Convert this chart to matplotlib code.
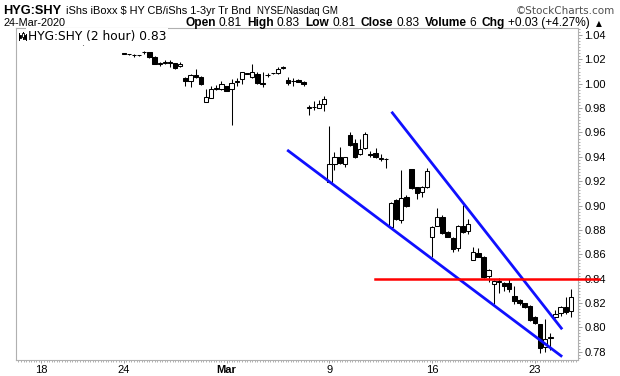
import matplotlib
matplotlib.use("Agg")
import matplotlib.pyplot as plt
import matplotlib.ticker as mticker
import numpy as np

# ---------------- data ----------------
trading_days = ["Feb 18", "Feb 19", "Feb 20", "Feb 21",
                "Feb 24", "Feb 25", "Feb 26", "Feb 27", "Feb 28",
                "Mar 2", "Mar 3", "Mar 4", "Mar 5", "Mar 6",
                "Mar 9", "Mar 10", "Mar 11", "Mar 12", "Mar 13",
                "Mar 16", "Mar 17", "Mar 18", "Mar 19", "Mar 20",
                "Mar 23", "Mar 24"]
bars_per_day = 4
tick_days = ["Feb 18", "Feb 24", "Mar 2", "Mar 9", "Mar 16", "Mar 23"]
tick_labels = ["18", "24", "Mar", "9", "16", "23"]

opens = [1.0365, 1.0352, 1.0370, 1.0368, 1.0375, 1.0380, 1.0385, 1.0378,
         1.0370, 1.0365, 1.0370, 1.0362, 1.0352, 1.0358, 1.0350, 1.0355,
         1.0252, 1.0244, 1.0235, 1.0233, 1.0259, 1.0258, 1.0222, 1.0166,
         1.0174, 1.0175, 1.0168, 1.0143, 1.0050, 1.0025, 1.0072, 1.0058,
         0.9852, 0.9885, 0.9958, 0.9957, 0.9979, 0.9956, 1.0015, 1.0036,
         1.0083, 1.0058, 1.0077, 1.0003, 1.0070, 1.0084, 1.0086, 1.0130,
         1.0031, 1.0021, 1.0031, 1.0017, 0.9802, 0.9805, 0.9803, 0.9831,
         0.9196, 0.9341, 0.9396, 0.9339, 0.9579, 0.9511, 0.9421, 0.9470,
         0.9418, 0.9434, 0.9385, 0.9378, 0.8826, 0.9045, 0.8881, 0.9073,
         0.9297, 0.9149, 0.9109, 0.9150, 0.8744, 0.8834, 0.8908, 0.8786,
         0.8736, 0.8649, 0.8832, 0.8793, 0.8553, 0.8613, 0.8580, 0.8421,
         0.8353, 0.8373, 0.8362, 0.8362, 0.8257, 0.8224, 0.8197, 0.8175,
         0.8087, 0.8025, 0.7841, 0.7916, 0.8087, 0.8115, 0.8165, 0.8134]
highs = [1.0380, 1.0370, 1.0380, 1.0385, 1.0390, 1.0395, 1.0400, 1.0390,
         1.0380, 1.0378, 1.0380, 1.0372, 1.0365, 1.0370, 1.0360, 1.0368,
         1.0256, 1.0248, 1.0240, 1.0238, 1.0271, 1.0262, 1.0225, 1.0181,
         1.0195, 1.0195, 1.0172, 1.0176, 1.0055, 1.0078, 1.0121, 1.0062,
         0.9957, 0.9984, 0.9991, 1.0025, 0.9985, 1.0036, 1.0045, 1.0100,
         1.0092, 1.0162, 1.0095, 1.0099, 1.0085, 1.0092, 1.0140, 1.0145,
         1.0055, 1.0050, 1.0036, 1.0022, 0.9825, 0.9858, 0.9864, 0.9900,
         0.9653, 0.9440, 0.9483, 0.9400, 0.9606, 0.9544, 0.9544, 0.9606,
         0.9450, 0.9470, 0.9420, 0.9392, 0.9030, 0.9050, 0.9292, 0.9090,
         0.9300, 0.9155, 0.9160, 0.9311, 0.8830, 0.8982, 0.8922, 0.8790,
         0.8740, 0.8840, 0.9004, 0.8890, 0.8657, 0.8650, 0.8585, 0.8475,
         0.8385, 0.8407, 0.8370, 0.8395, 0.8342, 0.8230, 0.8200, 0.8180,
         0.8095, 0.8030, 0.8067, 0.7956, 0.8142, 0.8172, 0.8251, 0.8312]
lows = [1.0355, 1.0350, 1.0360, 1.0360, 1.0365, 1.0370, 1.0375, 1.0365,
        1.0320, 1.0360, 1.0360, 1.0348, 1.0348, 1.0348, 1.0345, 1.0355,
        1.0245, 1.0238, 1.0217, 1.0228, 1.0244, 1.0214, 1.0158, 1.0148,
        1.0160, 1.0140, 1.0118, 1.0140, 0.9984, 0.9976, 1.0050, 0.9990,
        0.9848, 0.9880, 0.9948, 0.9948, 0.9940, 0.9664, 0.9985, 0.9995,
        1.0078, 1.0050, 0.9998, 0.9976, 1.0055, 1.0080, 1.0082, 1.0120,
        0.9990, 0.9985, 1.0012, 0.9984, 0.9743, 0.9784, 0.9800, 0.9780,
        0.9196, 0.9290, 0.9345, 0.9319, 0.9490, 0.9393, 0.9415, 0.9465,
        0.9400, 0.9390, 0.9365, 0.9306, 0.8820, 0.8880, 0.8859, 0.8990,
        0.9138, 0.9055, 0.9070, 0.9145, 0.8580, 0.8830, 0.8768, 0.8740,
        0.8617, 0.8630, 0.8776, 0.8765, 0.8550, 0.8578, 0.8405, 0.8375,
        0.8192, 0.8279, 0.8300, 0.8290, 0.8189, 0.8180, 0.8160, 0.8055,
        0.8030, 0.7787, 0.7800, 0.7814, 0.8080, 0.8090, 0.8110, 0.8082]
closes = [1.0370, 1.0358, 1.0365, 1.0375, 1.0380, 1.0385, 1.0378, 1.0370,
          1.0365, 1.0370, 1.0368, 1.0352, 1.0358, 1.0350, 1.0352, 1.0360,
          1.0248, 1.0240, 1.0232, 1.0235, 1.0261, 1.0217, 1.0162, 1.0170,
          1.0178, 1.0171, 1.0132, 1.0164, 1.0025, 1.0072, 1.0053, 0.9998,
          0.9893, 0.9954, 0.9962, 0.9998, 0.9944, 1.0002, 1.0019, 1.0094,
          1.0087, 1.0094, 1.0003, 0.9995, 1.0074, 1.0088, 1.0118, 1.0134,
          1.0004, 1.0024, 1.0017, 0.9995, 0.9805, 0.9808, 0.9831, 0.9875,
          0.9339, 0.9400, 0.9352, 0.9396, 0.9497, 0.9401, 0.9462, 0.9587,
          0.9422, 0.9396, 0.9389, 0.9382, 0.9023, 0.8887, 0.9060, 0.8996,
          0.9141, 0.9100, 0.9150, 0.9286, 0.8822, 0.8908, 0.8772, 0.8744,
          0.8640, 0.8832, 0.8780, 0.8848, 0.8622, 0.8580, 0.8411, 0.8471,
          0.8381, 0.8377, 0.8342, 0.8314, 0.8216, 0.8197, 0.8165, 0.8060,
          0.8038, 0.7828, 0.7907, 0.7920, 0.8107, 0.8169, 0.8124, 0.8251]

# drawn annotations (bar index, price)
lower_channel = [(47.8, 0.9456), (101.3, 0.7759)]
upper_channel = [(68.1, 0.9770), (101.3, 0.7984)]
resistance_level = 0.8394
resistance_from_bar = 64.9

y_ticks = [0.78, 0.80, 0.82, 0.84, 0.86, 0.88, 0.90, 0.92, 0.94, 0.96, 0.98, 1.00, 1.02, 1.04]

# ---------------- figure ----------------
W, H, DPI = 620, 376, 100
fig = plt.figure(figsize=(W / DPI, H / DPI), dpi=DPI)
L, R, T, B = 16, 578, 28, 360
ax = fig.add_axes([L / W, 1 - B / H, (R - L) / W, (B - T) / H])

x = np.arange(len(opens))
o = np.array(opens); h = np.array(highs); l = np.array(lows); c = np.array(closes)
up = c >= o

ax.vlines(x, l, h, color="black", linewidth=0.75, zorder=2)
bottoms = np.minimum(o, c)
heights = np.maximum(np.abs(c - o), 0.00001)
ax.bar(x[up], heights[up], bottom=bottoms[up], width=0.85, facecolor="white",
       edgecolor="black", linewidth=0.75, zorder=3)
ax.bar(x[~up], heights[~up], bottom=bottoms[~up], width=0.85, facecolor="black",
       edgecolor="black", linewidth=0.75, zorder=3)

for seg in (lower_channel, upper_channel):
    ax.plot([seg[0][0], seg[1][0]], [seg[0][1], seg[1][1]], color="#1010ff",
            linewidth=2.0, zorder=4, solid_capstyle="butt")
ax.plot([resistance_from_bar, 108.5], [resistance_level, resistance_level],
        color="#ff0000", linewidth=1.8, zorder=6, clip_on=False)

ax.set_xlim(-4.96, 104.38)
ax.set_ylim(0.77317, 1.04575)

# axes styling
for sp in ax.spines.values():
    sp.set_color("#b0b0b0")
    sp.set_linewidth(0.8)

ax.yaxis.tick_right()
ax.set_yticks(y_ticks)
ax.yaxis.set_major_formatter(mticker.FormatStrFormatter("%.2f"))
ax.yaxis.set_minor_locator(mticker.MultipleLocator(0.0025))
ax.tick_params(axis="y", which="major", length=3, width=0.7, color="#a0a0a0",
               pad=1.5, labelsize=8, labelcolor="black")
ax.tick_params(axis="y", which="minor", length=1.2, width=0.7, color="#b0b0b0")

tick_pos = [trading_days.index(d) * bars_per_day for d in tick_days]
ax.set_xticks(tick_pos)
ax.set_xticklabels(tick_labels)
ax.xaxis.set_minor_locator(mticker.MultipleLocator(0.5))
ax.tick_params(axis="x", which="major", length=2, width=0.7, color="#a0a0a0",
               pad=1.5, labelsize=8, labelcolor="black")
ax.tick_params(axis="x", which="minor", length=1.2, width=0.7, color="#b0b0b0")
for lab in ax.get_xticklabels():
    lab.set_fontfamily("Liberation Sans")
    if lab.get_text() == "Mar":
        lab.set_fontweight("bold")
for lab in ax.get_yticklabels():
    lab.set_fontfamily("Liberation Sans")

# legend inside the plot
ax.text((28 - L) / (R - L), 1 - (30 - T) / (B - T), "HYG:SHY (2 hour) 0.83",
        transform=ax.transAxes, ha="left", va="top", fontsize=8.8,
        family="DejaVu Sans", zorder=7,
        bbox=dict(facecolor="white", edgecolor="none", pad=1.2))
# small candlestick icon
def px(xp, yp):
    return xp / W, 1 - yp / H
for xi, (y0, y1, b0, b1, fill) in zip([19.5, 22.5, 25.5],
                                       [(33, 40, 35, 38, "black"),
                                        (32, 39, 33, 37, "white"),
                                        (34, 40, 35, 39, "black")]):
    fig.add_artist(plt.Line2D([xi / W, xi / W], [1 - y0 / H, 1 - y1 / H],
                              color="black", linewidth=0.7, zorder=8))
    fig.add_artist(plt.Rectangle(px(xi - 1, b1), 2 / W, (b1 - b0) / H,
                                 facecolor=fill, edgecolor="black", linewidth=0.6, zorder=9))

# ---------------- header ----------------
def ftext(xp, yp, s, **kw):
    return fig.text(xp / W, 1 - yp / H, s, **kw)

ftext(3, 14, "HYG:SHY", fontsize=9.2, fontweight="bold", family="Liberation Sans", va="baseline")
ftext(66, 14, "iShs iBoxx $ HY CB/iShs 1-3yr Tr Bnd", fontsize=7.9, family="Liberation Sans", va="baseline")
ftext(257, 14, "NYSE/Nasdaq GM", fontsize=7.0, family="Liberation Sans", va="baseline")
ftext(615, 14, "\u00a9StockCharts.com", fontsize=7.5, family="DejaVu Sans", color="#505050",
      ha="right", va="baseline")
ftext(3, 26, "24-Mar-2020", fontsize=7.8, family="Liberation Sans", va="baseline")

pieces = [("Open", True), ("0.81", False), ("High", True), ("0.83", False),
          ("Low", True), ("0.81", False), ("Close", True), ("0.83", False),
          ("Volume", True), ("6", False), ("Chg", True), ("+0.03 (+4.27%)", False)]
renderer = fig.canvas.get_renderer()
xc = 185.0
for i, (s, bold) in enumerate(pieces):
    t = ftext(xc, 26, s, fontsize=8.6, family="Liberation Sans",
              fontweight="bold" if bold else "normal", va="baseline")
    w = t.get_window_extent(renderer).width
    xc += w + (3 if bold else 5.5)
ftext(xc, 26, "\u25b2", fontsize=5.5, family="DejaVu Sans", va="baseline")

fig.savefig("out.png", dpi=DPI)
